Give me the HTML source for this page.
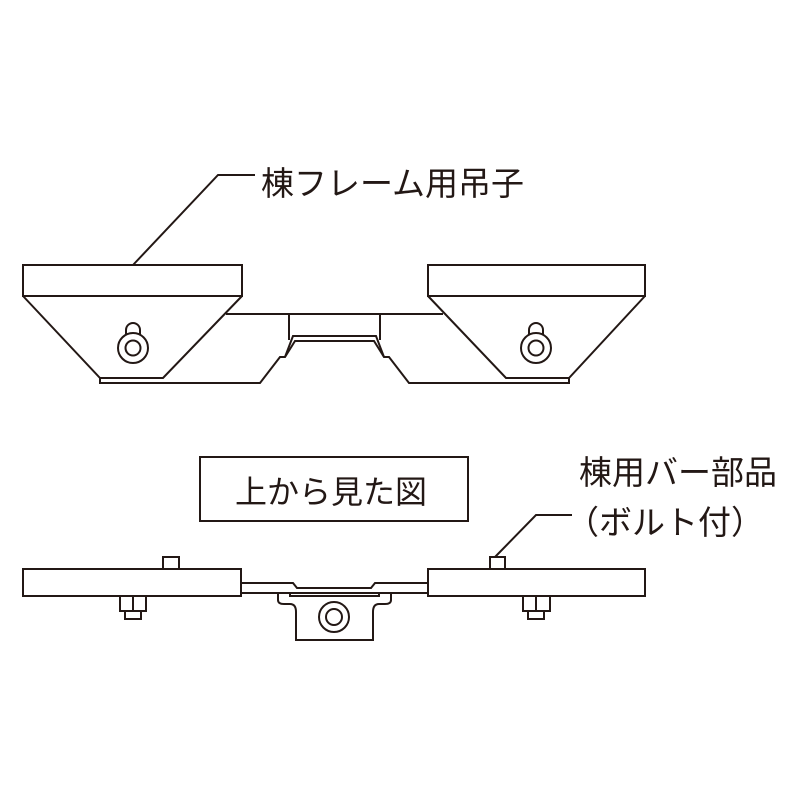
<!DOCTYPE html>
<html><head><meta charset="utf-8"><style>
html,body{margin:0;padding:0;background:#fff;}
svg{display:block;}
text{font-family:"Liberation Sans","Noto Sans CJK JP",sans-serif;fill:#231815;}
</style></head><body>
<svg width="800" height="800" viewBox="0 0 800 800" xmlns="http://www.w3.org/2000/svg">
<g fill="none" stroke="#231815" stroke-width="2" stroke-linejoin="miter">
<polyline points="133,265 218,175 255,175"/>
<rect x="23" y="265" width="219" height="31" fill="#fff"/>
<polyline points="23,296 100,378 163,378 242,296"/>
<polyline points="100,378 100,383 260,383 280,357 285,357 295,341 374,341 384,357 389,357 409,383 569,383 569,378"/>
<polyline points="226,314 443,314"/>
<line x1="289" y1="314" x2="289" y2="340"/>
<line x1="380" y1="314" x2="380" y2="340"/>
<polyline points="285,357 293,336 376,336 384,357"/>
<circle cx="133" cy="348" r="15"/>
<circle cx="133" cy="348" r="7.5"/>
<path d="M126,335 V330 A7,7 0 0 1 140,330 V335"/>
<rect x="428" y="265" width="217" height="31" fill="#fff"/>
<polyline points="428,296 506,378 569,378 645,296"/>
<circle cx="536" cy="348" r="15"/>
<circle cx="536" cy="348" r="7.5"/>
<path d="M529,335 V330 A7,7 0 0 1 543,330 V335"/>
<rect x="200" y="457" width="268" height="64"/>
<polyline points="495,557 536,515 572,515"/>
<polyline points="241,583 293,583 297,588 371,588 375,583 428,583"/>
<line x1="241" y1="593" x2="428" y2="593"/>
<path d="M278,593 V600 Q278,604 284,604 H290 Q296,604 296,612 V640 H373 V612 Q373,604 379,604 H385 Q391,604 391,600 V593"/>
<path d="M290,593 V596 H379 V593"/>
<circle cx="334" cy="617" r="15"/>
<circle cx="334" cy="617" r="8"/>
<rect x="23" y="569" width="218" height="27" fill="#fff"/>
<rect x="163" y="557" width="16" height="12"/>
<rect x="120" y="596" width="26" height="15"/>
<line x1="133" y1="596" x2="133" y2="611"/>
<rect x="125" y="611" width="16" height="8"/>
<rect x="428" y="569" width="217" height="27" fill="#fff"/>
<rect x="490" y="557" width="15" height="12"/>
<rect x="523" y="596" width="27" height="15"/>
<line x1="536" y1="596" x2="536" y2="611"/>
<rect x="528" y="611" width="16" height="8"/>
</g>
<text x="261" y="195" font-size="33">棟フレーム用吊子</text>
<text x="235" y="503" font-size="32">上から見た図</text>
<text x="579" y="484" font-size="33">棟用バー部品</text>
<text x="566" y="534" font-size="33">（ボルト付）</text>
</svg>
</body></html>
